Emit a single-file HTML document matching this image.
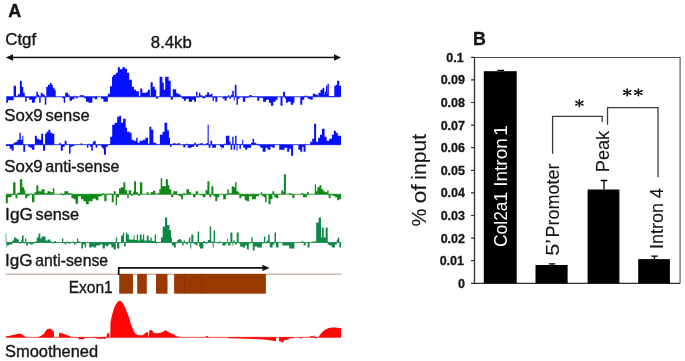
<!DOCTYPE html>
<html><head><meta charset="utf-8"><style>
html,body{margin:0;padding:0;background:#fff;}
body{width:685px;height:361px;overflow:hidden;}
svg{display:block;filter:blur(0.3px);}
</style></head><body>
<svg width="685" height="361" viewBox="0 0 685 361">
<rect width="685" height="361" fill="#fff"/>
<g font-family="&quot;Liberation Sans&quot;, sans-serif" fill="#151515" stroke="#151515" stroke-width="0.35">
<text transform="translate(8.25 16.80) scale(1.0020 1)" font-size="18" font-weight="bold">A</text>
<text transform="translate(5.24 44.60) scale(1.0541 1)" font-size="16">Ctgf</text>
<text transform="translate(150.87 47.70) scale(1.0457 1)" font-size="16">8.4kb</text>
<text transform="translate(4.34 120.90) scale(1.0519 1)" font-size="16">Sox9</text>
<text transform="translate(45.59 120.90) scale(1.0316 1)" font-size="16">sense</text>
<text transform="translate(4.34 171.90) scale(1.0519 1)" font-size="16">Sox9</text>
<text transform="translate(45.37 171.90) scale(1.0044 1)" font-size="16">anti-sense</text>
<text transform="translate(5.10 220.20) scale(1.0814 1)" font-size="16">IgG</text>
<text transform="translate(35.55 220.20) scale(1.0207 1)" font-size="16">sense</text>
<text transform="translate(5.12 266.20) scale(1.0685 1)" font-size="16">IgG</text>
<text transform="translate(35.33 266.20) scale(0.9858 1)" font-size="16">anti-sense</text>
<text transform="translate(68.73 292.50) scale(0.9706 1)" font-size="16">Exon1</text>
<text transform="translate(5.05 356.90) scale(1.0261 1)" font-size="16">Smoothened</text>
</g>
<g fill="#111" stroke="none">
<rect x="11" y="56.7" width="324" height="1.5"/>
<path d="M5.8 57.45L13 54.2L13 60.7Z"/>
<path d="M341.2 57.45L334 54.2L334 60.7Z"/>
</g>
<path fill="#0610fa" d="M6.3 96.8H8V102.8H6.3ZM8 96.8H13.6V100.3H8ZM13.6 96.8H16V85.8H13.6ZM16 96.8H17.9V95.8H16ZM17.9 96.8H19.9V94.3H17.9ZM19.9 96.8H21.8V80.8H19.9ZM21.8 96.8H23.3V86.8H21.8ZM23.3 96.8H24.7V92.8H23.3ZM24.7 96.8H25.2V95.8H24.7ZM25.2 96.8H26.6V101.8H25.2ZM26.6 96.8H29.1V97.8H26.6ZM29.1 96.8H32V99.8H29.1ZM32 96.8H34.9V102.8H32ZM34.9 96.8H36.3V98.8H34.9ZM36.3 96.8H37.8V91.8H36.3ZM37.8 96.8H39.2V94.8H37.8ZM39.2 96.8H40.7V102.8H39.2ZM40.7 96.8H42.2V92.8H40.7ZM42.2 96.8H43.6V93.8H42.2ZM43.6 96.8H44.8V94.8H43.6ZM44.8 96.8H46.3V104.8H44.8ZM46.3 96.8H48V86.8H46.3ZM48 96.8H49.9V84.8H48ZM49.9 96.8H51.4V82.8H49.9ZM51.4 96.8H52.8V84.8H51.4ZM52.8 96.8H54.3V87.8H52.8ZM54.3 96.8H55.7V89.8H54.3ZM62.3 96.8H63.7V98.3H62.3ZM63.7 96.8H65.2V102.8H63.7ZM65.2 96.8H68.1V92.8H65.2ZM68.1 96.8H69.5V94.8H68.1ZM69.5 96.8H72V100.8H69.5ZM72 96.8H74.4V99.3H72ZM74.4 96.8H75.8V95.8H74.4ZM75.8 96.8H77.8V98.3H75.8ZM79.7 96.8H84.1V95.3H79.7ZM84.1 96.8H86V98.3H84.1ZM86 96.8H88.4V101.8H86ZM88.4 96.8H92.3V102.8H88.4ZM92.3 96.8H94.7V97.8H92.3ZM94.7 96.8H97.2V99.3H94.7ZM101 96.8H103.4V98.8H101ZM103.4 96.8H107.8V101.8H103.4ZM107.8 96.8H110V93.8H107.8ZM110 96.8H112V86.3H110ZM112 96.8H113.2V76.8H112ZM113.2 96.8H115.9V74.8H113.2ZM115.9 96.8H117.8V72.8H115.9ZM117.8 96.8H119.8V67.3H117.8ZM119.8 96.8H122.4V69.2H119.8ZM122.4 96.8H125.1V67.3H122.4ZM125.1 96.8H127V68.8H125.1ZM127 96.8H129.2V72.8H127ZM129.2 96.8H131.9V79.8H129.2ZM131.9 96.8H134V86.8H131.9ZM134 96.8H136V89.8H134ZM136 96.8H138.9V91.3H136ZM138.9 96.8H140.2V96.3H138.9ZM140.2 96.8H142.3V88.5H140.2ZM142.3 96.8H146.5V92.8H142.3ZM146.5 96.8H147.9V91.8H146.5ZM147.9 96.8H149.9V89.8H147.9ZM149.9 96.8H150.6V96.3H149.9ZM150.6 96.8H152.7V82.3H150.6ZM152.7 96.8H154.8V86.8H152.7ZM154.8 96.8H156.2V89.8H154.8ZM156.2 96.8H158.2V98.8H156.2ZM159.6 96.8H162.4V76.8H159.6ZM162.4 96.8H163.8V82.8H162.4ZM163.8 96.8H165.2V89.8H163.8ZM165.2 96.8H168.6V76.8H165.2ZM168.6 96.8H170.7V80.8H168.6ZM170.7 96.8H172.8V99.8H170.7ZM172.8 96.8H176.2V89.2H172.8ZM176.2 96.8H178.3V93.3H176.2ZM178.3 96.8H180.4V94.3H178.3ZM180.4 96.8H181.9V95.8H180.4ZM181.9 96.8H183.9V98.8H181.9ZM183.9 96.8H185.8V100.8H183.9ZM185.8 96.8H188.7V98.8H185.8ZM188.7 96.8H192.1V101.8H188.7ZM192.1 96.8H194.1V99.8H192.1ZM194.1 96.8H196V101.8H194.1ZM196 96.8H197.4V91.8H196ZM197.4 96.8H198.9V97.8H197.4ZM198.9 96.8H200.3V92.8H198.9ZM200.3 96.8H202.3V95.3H200.3ZM202.3 96.8H205.2V98.3H202.3ZM205.2 96.8H207.1V94.8H205.2ZM207.1 96.8H209.1V92.3H207.1ZM209.1 96.8H211V94.8H209.1ZM211 96.8H212.5V93.8H211ZM212.5 96.8H213.9V100.8H212.5ZM213.9 96.8H215.4V97.8H213.9ZM215.4 96.8H217.3V101.8H215.4ZM222.6 96.8H224.6V98.8H222.6ZM224.6 96.8H226.5V100.8H224.6ZM226.5 96.8H228V97.8H226.5ZM228 96.8H229.4V95.3H228ZM229.4 96.8H230.9V98.8H229.4ZM230.9 96.8H232.3V94.8H230.9ZM232.3 96.8H233.8V90.8H232.3ZM233.8 96.8H234.7V100.8H233.8ZM234.8 96.8H236.5V84.8H234.8ZM236.5 96.8H237.9V104.8H236.5ZM237.9 96.8H239.4V98.8H237.9ZM239.4 96.8H242.8V97.3H239.4ZM242.8 96.8H245.2V101.8H242.8ZM245.2 96.8H249V97.8H245.2ZM249 96.8H252V95.3H249ZM252 96.8H257.3V96.3H252ZM257.3 96.8H259.2V100.8H257.3ZM259.2 96.8H263.1V97.8H259.2ZM263.1 96.8H266V101.8H263.1ZM266 96.8H268.9V99.8H266ZM268.9 96.8H270.9V102.8H268.9ZM270.9 96.8H273.3V105.8H270.9ZM273.3 96.8H275.7V101.8H273.3ZM275.7 96.8H277.6V99.8H275.7ZM280.5 96.8H282.5V105.8H280.5ZM283 96.8H284.9V91.8H283ZM284.9 96.8H285.9V98.8H284.9ZM285.9 96.8H287.8V102.8H285.9ZM287.8 96.8H290.7V101.8H287.8ZM290.7 96.8H293.1V104.8H290.7ZM293.1 96.8H294.4V102.8H293.1ZM300.3 96.8H302.3V104.8H300.3ZM302.3 96.8H304.3V99.8H302.3ZM304.3 96.8H307.6V95.8H304.3ZM307.6 96.8H310.2V98.8H307.6ZM310.2 96.8H312.8V99.8H310.2ZM312.8 96.8H315.4V93.8H312.8ZM315.4 96.8H318V94.8H315.4ZM318.4 96.8H320.5V92.8H318.4ZM320.5 96.8H322.5V89.8H320.5ZM322.5 96.8H324.3V87.8H322.5ZM324.3 96.8H324.8V94.8H324.3ZM324.8 96.8H326V91.8H324.8ZM326 96.8H327.2V85.8H326ZM327.2 96.8H327.5V93.8H327.2ZM327.5 96.8H328.8V83.8H327.5ZM328.8 96.8H334.3V96H328.8ZM334.3 96.8H335.7V85.8H334.3ZM335.7 96.8H337.1V84.8H335.7ZM337.1 96.8H339.2V80.8H337.1ZM339.2 96.8H341V85.8H339.2Z"/>
<rect x="6" y="96.4" width="335" height="0.8" fill="#0610fa"/>
<path fill="#0610fa" d="M5.8 144.7H9.7V145.9H5.8ZM9.7 144.7H11.6V148.7H9.7ZM11.6 144.7H13.6V150.7H11.6ZM13.6 144.7H15.5V142.7H13.6ZM15.5 144.7H17.4V141.7H15.5ZM17.4 144.7H19.4V139.7H17.4ZM19.4 144.7H20.8V132.7H19.4ZM20.8 144.7H22.3V139.7H20.8ZM22.3 144.7H23.3V135.7H22.3ZM23.3 144.7H25.2V151.7H23.3ZM28.1 144.7H30V146.7H28.1ZM30 144.7H32V147.7H30ZM32 144.7H34.4V149.7H32ZM34.9 144.7H36.8V135.7H34.9ZM36.8 144.7H38.8V138.7H36.8ZM38.8 144.7H41.2V139.7H38.8ZM41.2 144.7H43.1V133.7H41.2ZM43.1 144.7H45.1V150.7H43.1ZM45.1 144.7H46.5V133.7H45.1ZM46.5 144.7H48.4V131.7H46.5ZM48.4 144.7H50.4V129.7H48.4ZM50.4 144.7H52.3V132.7H50.4ZM52.3 144.7H54.3V133.7H52.3ZM59.4 144.7H60.8V142.7H59.4ZM60.8 144.7H62.8V150.7H60.8ZM62.8 144.7H64.7V146.7H62.8ZM64.7 144.7H66.6V140.7H64.7ZM69 144.7H70.5V153.7H69ZM70.5 144.7H72V146.7H70.5ZM72 144.7H74.4V146.2H72ZM80.7 144.7H82.1V143.2H80.7ZM87 144.7H88.4V147.7H87ZM88.4 144.7H89.9V143.7H88.4ZM89.9 144.7H91.3V146.7H89.9ZM91.3 144.7H92.8V150.7H91.3ZM92.8 144.7H94.2V141.7H92.8ZM94.2 144.7H95.7V140.7H94.2ZM95.7 144.7H97.2V147.7H95.7ZM97.2 144.7H101V145.2H97.2ZM101 144.7H102.5V146.7H101ZM102.5 144.7H103.9V148.7H102.5ZM103.9 144.7H105.9V154.7H103.9ZM105.9 144.7H107.8V146.7H105.9ZM107.8 144.7H110.2V144.2H107.8ZM110.2 144.7H112.2V136.7H110.2ZM112.2 144.7H114.6V124.7H112.2ZM114.6 144.7H117.2V122.7H114.6ZM117.2 144.7H119.2V116.7H117.2ZM119.2 144.7H121.1V115.7H119.2ZM121.1 144.7H123.1V122.7H121.1ZM123.1 144.7H125.7V118.7H123.1ZM125.7 144.7H127V127.7H125.7ZM127 144.7H129.7V131.7H127ZM129.7 144.7H131.6V132.7H129.7ZM131.6 144.7H133.6V139.7H131.6ZM133.6 144.7H136.2V140.7H133.6ZM136.2 144.7H137.6V137.7H136.2ZM137.6 144.7H139.5V142.7H137.6ZM139.5 144.7H142.8V140.7H139.5ZM142.8 144.7H145.4V139.7H142.8ZM145.4 144.7H148.1V137.7H145.4ZM148.1 144.7H149.4V143.7H148.1ZM149.4 144.7H151.4V126.7H149.4ZM151.4 144.7H153.3V129.7H151.4ZM153.3 144.7H156V142.7H153.3ZM156 144.7H157.9V143.7H156ZM159.9 144.7H162.5V134.7H159.9ZM162.5 144.7H164.5V131.7H162.5ZM164.5 144.7H167.2V122.7H164.5ZM167.2 144.7H168.9V130.3H167.2ZM168.9 144.7H170V137.7H168.9ZM170 144.7H171.6V146.7H170ZM171.6 144.7H173.3V143.7H171.6ZM173.3 144.7H175.5V143.2H173.3ZM175.5 144.7H177.7V143.7H175.5ZM177.7 144.7H180V143.2H177.7ZM183.3 144.7H185.5V147.2H183.3ZM185.5 144.7H187.7V143.7H185.5ZM187.7 144.7H191.6V147.7H187.7ZM191.6 144.7H194.3V146.7H191.6ZM194.3 144.7H196V142.7H194.3ZM196 144.7H198.2V146.7H196ZM198.2 144.7H200.4V143.7H198.2ZM200.4 144.7H203.2V143.2H200.4ZM203.2 144.7H206V145.2H203.2ZM206 144.7H207.6V143.2H206ZM207.6 144.7H208.7V124.7H207.6ZM208.7 144.7H210.4V147.7H208.7ZM210.4 144.7H212.1V140.7H210.4ZM212.1 144.7H215.9V147.7H212.1ZM219.8 144.7H221.5V146.7H219.8ZM221.5 144.7H222V149.7H221.5ZM222 144.7H224V147.7H222ZM224 144.7H225.9V143.7H224ZM225.9 144.7H229.3V135.7H225.9ZM229.3 144.7H230.7V141.7H229.3ZM230.7 144.7H232.2V149.7H230.7ZM232.2 144.7H233.6V136.7H232.2ZM233.6 144.7H235.1V149.7H233.6ZM235.1 144.7H236.5V135.7H235.1ZM236.5 144.7H237.5V150.7H236.5ZM237.5 144.7H239.4V144.2H237.5ZM239.4 144.7H240.9V148.7H239.4ZM240.9 144.7H242.3V143.7H240.9ZM242.3 144.7H243.3V139.7H242.3ZM243.3 144.7H245.3V147.7H243.3ZM245.3 144.7H247.2V149.7H245.3ZM247.2 144.7H251.1V147.7H247.2ZM251.1 144.7H252.5V142.7H251.1ZM252.5 144.7H254V138.7H252.5ZM254 144.7H255.9V142.7H254ZM255.9 144.7H258.3V143.7H255.9ZM258.3 144.7H260.3V145.7H258.3ZM260.3 144.7H262.7V147.7H260.3ZM262.7 144.7H265.6V151.7H262.7ZM265.6 144.7H267.5V147.7H265.6ZM267.5 144.7H270.4V149.7H267.5ZM270.4 144.7H272.4V146.7H270.4ZM272.4 144.7H274.8V147.7H272.4ZM279.2 144.7H284.6V149.7H279.2ZM284.6 144.7H287.2V147.7H284.6ZM287.2 144.7H289.2V151.7H287.2ZM289.2 144.7H291.1V148.7H289.2ZM291.1 144.7H293.1V155.7H291.1ZM298.4 144.7H300.3V149.7H298.4ZM300.3 144.7H302.3V151.7H300.3ZM302.3 144.7H303.6V146.7H302.3ZM303.6 144.7H305.6V151.7H303.6ZM310.2 144.7H312.2V141.7H310.2ZM312.2 144.7H314.1V138.7H312.2ZM314.1 144.7H316.1V123.7H314.1ZM316.1 144.7H318.1V141.7H316.1ZM318.1 144.7H320V137.7H318.1ZM320 144.7H322V134.7H320ZM322 144.7H324.6V128.7H322ZM324.6 144.7H326.6V136.7H324.6ZM326.6 144.7H329.2V140.7H326.6ZM329.2 144.7H331.9V138.7H329.2ZM331.9 144.7H333.8V134.7H331.9ZM333.8 144.7H335.8V130.7H333.8ZM335.8 144.7H337.8V132.7H335.8ZM337.8 144.7H341V135.7H337.8Z"/>
<rect x="6" y="144.3" width="335" height="0.8" fill="#0610fa"/>
<path fill="#0e8816" d="M5.8 194.2H7.8V203.2H5.8ZM7.8 194.2H11.6V197.2H7.8ZM11.6 194.2H13.1V195.2H11.6ZM13.1 194.2H15.5V182.2H13.1ZM15.5 194.2H17.4V198.2H15.5ZM17.4 194.2H19.9V192.7H17.4ZM19.9 194.2H22.3V179.2H19.9ZM22.3 194.2H24.2V187.2H22.3ZM24.2 194.2H25.2V190.2H24.2ZM25.2 194.2H27.1V198.2H25.2ZM27.1 194.2H29.1V196.2H27.1ZM29.1 194.2H32V193.7H29.1ZM32 194.2H34.4V202.2H32ZM34.4 194.2H36.3V192.2H34.4ZM36.3 194.2H38.3V185.2H36.3ZM38.3 194.2H41.7V191.2H38.3ZM41.7 194.2H44.6V189.2H41.7ZM44.6 194.2H47.5V193.2H44.6ZM47.5 194.2H50.4V191.2H47.5ZM50.4 194.2H52.8V192.2H50.4ZM52.8 194.2H54.3V188.2H52.8ZM60.4 194.2H62.4V193.2H60.4ZM62.4 194.2H64.4V195.2H62.4ZM64.4 194.2H68.3V191.2H64.4ZM68.3 194.2H71.4V193.2H68.3ZM71.4 194.2H73.7V198.2H71.4ZM73.7 194.2H75.5V199.2H73.7ZM75.5 194.2H78.1V203.7H75.5ZM78.1 194.2H81V196.2H78.1ZM81 194.2H83.4V199.2H81ZM83.4 194.2H85.9V201.2H83.4ZM85.9 194.2H88.8V204.2H85.9ZM88.8 194.2H92.6V201.2H88.8ZM92.6 194.2H96V198.7H92.6ZM96 194.2H98.4V200.2H96ZM98.4 194.2H102.3V196.2H98.4ZM102.3 194.2H104.3V193.2H102.3ZM104.3 194.2H106.5V201.2H104.3ZM106.5 194.2H111.8V193.7H106.5ZM111.8 194.2H113.7V202.2H111.8ZM113.7 194.2H115.7V191.2H113.7ZM115.7 194.2H117.1V205.2H115.7ZM117.1 194.2H119.1V197.2H117.1ZM119.1 194.2H121V188.2H119.1ZM121 194.2H123.4V187.2H121ZM123.4 194.2H125.3V182.2H123.4ZM125.3 194.2H127.3V190.2H125.3ZM127.3 194.2H128.7V198.2H127.3ZM128.7 194.2H131.2V190.2H128.7ZM131.2 194.2H133.1V195.7H131.2ZM133.1 194.2H134.1V192.2H133.1ZM134.1 194.2H136V181.2H134.1ZM136 194.2H138V192.2H136ZM138 194.2H139.9V195.7H138ZM139.9 194.2H142.3V182.2H139.9ZM146.7 194.2H148.6V192.2H146.7ZM150.5 194.2H153V192.2H150.5ZM153 194.2H155.4V190.7H153ZM157.3 194.2H159.3V193.2H157.3ZM159.3 194.2H160.7V189.2H159.3ZM160.7 194.2H162.2V178.2H160.7ZM162.2 194.2H165.8V186.2H162.2ZM165.8 194.2H167.9V179.2H165.8ZM167.9 194.2H169.4V185.2H167.9ZM169.4 194.2H171.3V189.2H169.4ZM171.3 194.2H173.3V197.2H171.3ZM173.3 194.2H177.2V191.2H173.3ZM177.2 194.2H179.2V195.2H177.2ZM179.2 194.2H181.2V196.2H179.2ZM181.2 194.2H183.1V199.2H181.2ZM183.1 194.2H185.1V193.2H183.1ZM185.1 194.2H186.4V195.2H185.1ZM186.4 194.2H189.1V189.2H186.4ZM189.1 194.2H191.1V192.2H189.1ZM193 194.2H195.6V197.2H193ZM195.6 194.2H198.2V191.2H195.6ZM200.2 194.2H202.8V195.2H200.2ZM202.8 194.2H205.5V197.2H202.8ZM205.5 194.2H207.4V190.2H205.5ZM207.4 194.2H209.4V181.2H207.4ZM209.4 194.2H211.4V197.2H209.4ZM211.4 194.2H213.4V186.2H211.4ZM213.4 194.2H215.3V196.2H213.4ZM215.3 194.2H217.3V201.2H215.3ZM217.3 194.2H219.3V197.2H217.3ZM223.2 194.2H225.9V199.2H223.2ZM225.9 194.2H227.3V195.2H225.9ZM227.3 194.2H228.8V189.2H227.3ZM228.8 194.2H231.7V193.2H228.8ZM231.7 194.2H233.6V186.2H231.7ZM233.6 194.2H235.1V187.2H233.6ZM235.1 194.2H236.5V182.2H235.1ZM236.5 194.2H238V191.2H236.5ZM238 194.2H239.4V192.2H238ZM239.4 194.2H241.4V198.2H239.4ZM241.4 194.2H244.8V196.2H241.4ZM244.8 194.2H246.7V200.2H244.8ZM246.7 194.2H249.1V201.2H246.7ZM249.1 194.2H252V196.2H249.1ZM252 194.2H255.9V199.2H252ZM255.9 194.2H258.8V196.2H255.9ZM260.8 194.2H262.2V192.2H260.8ZM262.2 194.2H263.7V196.2H262.2ZM263.7 194.2H265.1V197.2H263.7ZM265.1 194.2H266.6V202.2H265.1ZM268.5 194.2H270.5V204.2H268.5ZM270.5 194.2H272.4V199.2H270.5ZM272.4 194.2H274.3V191.2H272.4ZM274.3 194.2H276.3V197.2H274.3ZM276.3 194.2H278.2V198.2H276.3ZM281.3 194.2H283.2V190.2H281.3ZM283.2 194.2H283.9V192.2H283.2ZM283.9 194.2H285.9V174.2H283.9ZM288.5 194.2H291.1V193.2H288.5ZM291.1 194.2H292.4V195.2H291.1ZM292.4 194.2H294.4V198.2H292.4ZM301 194.2H303V193.2H301ZM303 194.2H306.9V197.2H303ZM306.9 194.2H308.9V192.2H306.9ZM314.8 194.2H316.1V184.2H314.8ZM316.1 194.2H317.4V191.2H316.1ZM317.4 194.2H319.4V187.2H317.4ZM319.4 194.2H321.4V185.2H319.4ZM321.4 194.2H323.3V189.2H321.4ZM323.3 194.2H325.3V191.2H323.3ZM325.3 194.2H327.3V192.2H325.3ZM327.3 194.2H328.6V190.2H327.3ZM328.6 194.2H330.6V198.2H328.6ZM330.6 194.2H333.2V195.2H330.6ZM333.2 194.2H335.1V196.2H333.2ZM335.1 194.2H337.1V197.2H335.1ZM337.1 194.2H339.1V200.2H337.1ZM339.1 194.2H341V199.2H339.1Z"/>
<rect x="6" y="193.8" width="335" height="0.8" fill="#0e8816"/>
<path fill="#0e8845" d="M5.7 242.6H6.4V233.6H5.7ZM6.4 242.6H7V247.6H6.4ZM7 242.6H8.8V245.6H7ZM8.8 242.6H12.3V244.6H8.8ZM12.3 242.6H14V240.6H12.3ZM14 242.6H15.8V237.6H14ZM15.8 242.6H17.5V238.6H15.8ZM17.5 242.6H18.8V239.6H17.5ZM18.8 242.6H21V243.6H18.8ZM21 242.6H21.9V240.6H21ZM21.9 242.6H23.6V235.6H21.9ZM23.6 242.6H25V243.6H23.6ZM25 242.6H26.3V238.6H25ZM26.3 242.6H28V245.6H26.3ZM28 242.6H30.2V243.6H28ZM30.2 242.6H32.8V244.6H30.2ZM32.8 242.6H35V243.6H32.8ZM35 242.6H36.8V241.6H35ZM36.8 242.6H38.5V237.6H36.8ZM38.5 242.6H40.3V233.6H38.5ZM40.3 242.6H41.6V238.6H40.3ZM41.6 242.6H45.5V236.6H41.6ZM45.5 242.6H47.7V240.6H45.5ZM47.7 242.6H50.4V239.6H47.7ZM50.4 242.6H52.5V241.6H50.4ZM52.5 242.6H54.3V243.6H52.5ZM54.3 242.6H56V241.1H54.3ZM62 242.6H63.3V238.6H62ZM63.3 242.6H65.1V243.6H63.3ZM65.1 242.6H66.4V244.6H65.1ZM66.4 242.6H68.1V241.6H66.4ZM68.1 242.6H70.8V243.6H68.1ZM70.8 242.6H72.5V242.1H70.8ZM72.5 242.6H74V241.6H72.5ZM74 242.6H75.6V244.6H74ZM75.6 242.6H76.9V243.6H75.6ZM76.9 242.6H78.2V238.6H76.9ZM78.2 242.6H80.4V241.6H78.2ZM81.3 242.6H83V248.6H81.3ZM83 242.6H84.8V244.6H83ZM84.8 242.6H86.1V247.6H84.8ZM86.1 242.6H89.2V243.1H86.1ZM89.2 242.6H91.8V247.6H89.2ZM91.8 242.6H93.5V246.6H91.8ZM93.5 242.6H96.2V247.6H93.5ZM96.2 242.6H100V245.6H96.2ZM100 242.6H102.6V244.6H100ZM102.6 242.6H104.8V248.6H102.6ZM104.8 242.6H106.6V245.6H104.8ZM106.6 242.6H108.3V246.6H106.6ZM108.3 242.6H111.4V244.6H108.3ZM111.4 242.6H113.6V247.6H111.4ZM113.6 242.6H115.8V249.6H113.6ZM115.8 242.6H117.1V237.6H115.8ZM117.1 242.6H119.3V248.6H117.1ZM119.3 242.6H121V242.1H119.3ZM121 242.6H122.8V235.6H121ZM122.8 242.6H124.1V232.6H122.8ZM124.1 242.6H125.8V246.6H124.1ZM125.8 242.6H127.1V232.6H125.8ZM127.1 242.6H128.9V234.6H127.1ZM128.9 242.6H133.7V239.6H128.9ZM133.7 242.6H134.6V235.6H133.7ZM134.6 242.6H136.8V240.1H134.6ZM136.8 242.6H138.1V234.6H136.8ZM138.1 242.6H139.8V240.6H138.1ZM139.8 242.6H141.6V234.6H139.8ZM141.6 242.6H142.9V239.6H141.6ZM142.9 242.6H144.2V234.6H142.9ZM144.2 242.6H146.8V240.6H144.2ZM146.8 242.6H148.6V235.6H146.8ZM148.6 242.6H150.4V240.6H148.6ZM150.4 242.6H151.7V237.6H150.4ZM151.7 242.6H154.7V241.1H151.7ZM154.7 242.6H156V234.6H154.7ZM156 242.6H156.6V244.1H156ZM156.6 242.6H161V242.1H156.6ZM161 242.6H162.7V237.6H161ZM162.7 242.6H165V226.6H162.7ZM165 242.6H167.2V217.6H165ZM167.2 242.6H169.4V224.9H167.2ZM169.4 242.6H171V229.9H169.4ZM171 242.6H171.9V237.6H171ZM171.9 242.6H173.9V245.6H171.9ZM173.9 242.6H175.8V247.6H173.9ZM175.8 242.6H177.3V243.6H175.8ZM177.3 242.6H178.7V240.1H177.3ZM178.7 242.6H180.7V239.1H178.7ZM180.7 242.6H182.1V240.6H180.7ZM182.1 242.6H183.6V245.6H182.1ZM183.6 242.6H185V240.6H183.6ZM185 242.6H186.5V243.6H185ZM186.5 242.6H187.9V244.6H186.5ZM187.9 242.6H188.9V241.6H187.9ZM188.9 242.6H190.3V237.6H188.9ZM190.3 242.6H191.3V248.6H190.3ZM191.3 242.6H193.3V234.6H191.3ZM193.3 242.6H194.7V243.6H193.3ZM194.7 242.6H196.2V244.6H194.7ZM196.2 242.6H197.6V245.6H196.2ZM197.6 242.6H199.1V231.6H197.6ZM199.1 242.6H200V246.6H199.1ZM200 242.6H203.4V248.6H200ZM203.4 242.6H204.9V241.1H203.4ZM204.9 242.6H207.8V243.6H204.9ZM207.8 242.6H209.7V240.1H207.8ZM209.7 242.6H211.2V226.6H209.7ZM211.2 242.6H212.6V241.6H211.2ZM212.6 242.6H213.6V247.6H212.6ZM213.6 242.6H215.1V230.6H213.6ZM215.1 242.6H217.5V243.1H215.1ZM217.5 242.6H218.9V243.6H217.5ZM218.9 242.6H220.9V241.6H218.9ZM222.3 242.6H225.7V245.6H222.3ZM225.7 242.6H227.2V243.6H225.7ZM227.2 242.6H228.1V238.6H227.2ZM228.1 242.6H230.4V245.6H228.1ZM230.4 242.6H232.4V232.6H230.4ZM232.4 242.6H233.3V245.6H232.4ZM233.3 242.6H234.8V240.6H233.3ZM234.8 242.6H236.7V244.6H234.8ZM236.7 242.6H238.7V232.6H236.7ZM238.7 242.6H240.1V243.6H238.7ZM240.1 242.6H242.5V246.6H240.1ZM242.5 242.6H245V247.6H242.5ZM245 242.6H246.9V245.6H245ZM246.9 242.6H248.8V249.6H246.9ZM248.8 242.6H251.3V243.6H248.8ZM251.3 242.6H252.7V237.6H251.3ZM252.7 242.6H254.6V250.6H252.7ZM254.6 242.6H257.1V246.6H254.6ZM257.1 242.6H261.9V247.6H257.1ZM261.9 242.6H263.9V243.6H261.9ZM263.9 242.6H265.3V236.6H263.9ZM265.3 242.6H266.8V243.6H265.3ZM266.8 242.6H268.2V240.6H266.8ZM268.2 242.6H269.7V234.6H268.2ZM269.7 242.6H272.6V247.6H269.7ZM272.6 242.6H274.5V244.6H272.6ZM274.5 242.6H276V232.6H274.5ZM276 242.6H278.4V247.6H276ZM282.3 242.6H289.2V245.6H282.3ZM289.2 242.6H294.4V248.6H289.2ZM301 242.6H303.6V241.6H301ZM303.6 242.6H305.6V245.6H303.6ZM307.6 242.6H309.5V247.6H307.6ZM312.5 242.6H316.2V241.6H312.5ZM316.2 242.6H318.7V222.6H316.2ZM318.7 242.6H321V217.6H318.7ZM321 242.6H321.8V237.6H321ZM321.8 242.6H323.7V227.6H321.8ZM323.7 242.6H325.6V237.6H323.7ZM325.6 242.6H327.7V227.6H325.6ZM327.7 242.6H329.3V244.6H327.7ZM329.3 242.6H331.8V245.6H329.3ZM331.8 242.6H334.9V247.6H331.8ZM334.9 242.6H336.8V244.6H334.9ZM336.8 242.6H338V239.6H336.8ZM338 242.6H339.3V237.6H338ZM339.3 242.6H341V247.6H339.3Z"/>
<rect x="6" y="242.2" width="335" height="0.8" fill="#0e8845"/>
<rect x="5.7" y="273.6" width="335.7" height="1.1" fill="#bca096"/>
<g fill="#993a02">
<rect x="119.2" y="274" width="13.8" height="19.7"/>
<rect x="137.2" y="274" width="9.6" height="19.7"/>
<rect x="156" y="274" width="11.5" height="19.7"/>
<rect x="174.1" y="274" width="91.8" height="19.7"/>
<rect x="184.2" y="274" width="0.8" height="19.7" fill="#873200"/>
<rect x="201.4" y="274" width="0.8" height="19.7" fill="#873200"/>
</g>
<path d="M118.7 275V267.9H264" fill="none" stroke="#111" stroke-width="1.7"/>
<path d="M269.6 267.9L262.4 264.8L262.4 271Z" fill="#111"/>
<path fill="#fe0606" d="M6 337.3L6 336.3L10 335.8L14 334.8L18 333.8L21 333.8L24 335.8L26 337.3L38 337.3L41 335.8L44 333.8L46 330.3L48 328.8L51 328.8L52 330.3L53.9 331.3L54 337.3L59 337.3L59.1 332.8L62 333.3L66 334.8L70 336.3L72 337.3L78 337.8L79 339.3L84 339.3L85 337.8L93 337.8L96 338.3L98 338.8L106 338.8L106.5 336.3L107.3 333.3L109.3 333.3L109.5 337.3L110.3 337.3L110.5 322.3L112 315.3L114 308.3L116 304.3L118 301.3L120.5 300.8L123 303.3L125 307.3L127 312.3L129 317.3L131 324.3L133 329.3L135 333.3L137 334.8L140 335.3L142.8 335.3L144 334.3L146.5 332.3L148.2 332.3L148.4 337.3L148.9 337.3L149.2 330.3L152 330.3L154 333.3L158 333.3L162 332.3L165.5 330.3L169 332.3L172 333.8L174 334.3L176 336.3L180 336.8L181 337.3L205 337.3L207 335.8L209 337.3L228 337.3L228.5 338.3L247 338.8L261 339.3L270 340.3L276 341.3L276.1 337.3L279 337.3L279.1 341.3L282 341.8L283 343.3L284 340.3L289 339.3L290 338.3L293.6 338.3L294 337.3L299.5 337.3L299.6 338.3L302.4 338.3L302.5 337.3L309.7 337.3L310 336.3L314 336.3L314.5 334.8L315.5 339.3L316.2 338.3L318.4 337.3L320 334.8L323 331.3L326 329.3L329 328.1L332 327.5L336 327.5L339 327.9L341 328.3L341 337.3Z"/>
<rect x="6" y="336.9" width="335" height="0.7" fill="#fe0606"/>
<g font-family="&quot;Liberation Sans&quot;, sans-serif" fill="#151515" stroke="#151515" stroke-width="0.3">
<text transform="translate(472.90 44.80) scale(0.9929 1)" font-size="18" font-weight="bold">B</text>
</g>
<path d="M474.5 57.5H680.1V283.3" fill="none" stroke="#505050" stroke-width="1.1"/>
<path d="M474.5 57.5V283.3H680.1" fill="none" stroke="#303030" stroke-width="1.3"/>
<g font-family="&quot;Liberation Sans&quot;, sans-serif" font-size="12.5" font-weight="bold" fill="#151515" stroke="#151515" stroke-width="0.3" text-anchor="end">
<text x="465" y="287.8">0</text>
<text x="464" y="265.1">0.01</text>
<text x="465" y="242.6">0.02</text>
<text x="465" y="219.9">0.03</text>
<text x="465" y="197.3">0.04</text>
<text x="465" y="174.8">0.05</text>
<text x="465" y="152.2">0.06</text>
<text x="465" y="129.5">0.07</text>
<text x="465" y="107">0.08</text>
<text x="465" y="84.4">0.09</text>
<text x="463.6" y="61.8">0.1</text>
</g>
<path d="M471 283.3H474.5M471 260.7H474.5M471 238.1H474.5M471 215.5H474.5M471 192.9H474.5M471 170.3H474.5M471 147.7H474.5M471 125.1H474.5M471 102.5H474.5M471 79.9H474.5M471 57.3H474.5" stroke="#333" stroke-width="1.2"/>
<rect x="483.8" y="71.2" width="32.9" height="212.1" fill="#000"/>
<path d="M500.8 71.2V70.4M497.4 70.4H504.1" stroke="#000" stroke-width="1.3" fill="none"/>
<rect x="535.5" y="265" width="32.1" height="18.3" fill="#000"/>
<path d="M552 265V263.9M548.8 263.9H555.3" stroke="#000" stroke-width="1.3" fill="none"/>
<rect x="587.6" y="189.5" width="31.8" height="93.8" fill="#000"/>
<path d="M604 189.5V180.5M600.7 180.5H607.3" stroke="#000" stroke-width="1.3" fill="none"/>
<rect x="638.2" y="259.1" width="31.7" height="24.2" fill="#000"/>
<path d="M654.5 259.1V256.2M651.2 256.2H657.8" stroke="#000" stroke-width="1.3" fill="none"/>
<g font-family="&quot;Liberation Sans&quot;, sans-serif">
<text transform="translate(507.10 246.99) rotate(-90) scale(0.9684 1)" font-size="18" fill="#fff" stroke="#fff" stroke-width="0">Col2a1</text>
<text transform="translate(507.10 186.75) rotate(-90) scale(1.0556 1)" font-size="18" fill="#fff" stroke="#fff" stroke-width="0">Intron</text>
<text transform="translate(507.10 136.02) rotate(-90) scale(1.1081 1)" font-size="18" fill="#fff" stroke="#fff" stroke-width="0">1</text>
<text transform="translate(559.30 255.76) rotate(-90) scale(1.1994 1)" font-size="18" fill="#151515" stroke="#151515" stroke-width="0.12">5’</text>
<text transform="translate(559.30 237.48) rotate(-90) scale(1.0007 1)" font-size="18" fill="#151515" stroke="#151515" stroke-width="0.12">Promoter</text>
<text transform="translate(609.20 172.19) rotate(-90) scale(1.0082 1)" font-size="18" fill="#151515" stroke="#151515" stroke-width="0.12">Peak</text>
<text transform="translate(662.80 248.95) rotate(-90) scale(0.9957 1)" font-size="18" fill="#151515" stroke="#151515" stroke-width="0.12">Intron 4</text>
<text transform="translate(425.80 226.42) rotate(-90) scale(0.9841 1)" font-size="20.5" fill="#151515" stroke="#151515" stroke-width="0.12">%</text>
<text transform="translate(425.80 203.47) rotate(-90) scale(1.1251 1)" font-size="20.5" fill="#151515" stroke="#151515" stroke-width="0.12">of</text>
<text transform="translate(425.80 179.71) rotate(-90) scale(1.0295 1)" font-size="20.5" fill="#151515" stroke="#151515" stroke-width="0.12">input</text>
</g>
<path d="M552.6 153.8V116.4H602.2V122.2M607.5 124.8V107.7H658V177.3" fill="none" stroke="#3a3a3a" stroke-width="1.3"/>
<g font-family="&quot;Liberation Sans&quot;, sans-serif" fill="#151515">
<path d="M579.40 103.20L579.40 99.61M579.40 103.20L579.40 106.79M579.40 103.20L583.17 101.36M579.40 103.20L583.17 105.04M579.40 103.20L575.63 101.36M579.40 103.20L575.63 105.04" stroke="#151515" stroke-width="1.1" stroke-linecap="round" fill="none"/><circle cx="579.40" cy="100.39" r="0.95" fill="#151515"/><circle cx="579.40" cy="106.01" r="0.95" fill="#151515"/><circle cx="582.35" cy="101.76" r="0.95" fill="#151515"/><circle cx="582.35" cy="104.64" r="0.95" fill="#151515"/><circle cx="576.45" cy="101.76" r="0.95" fill="#151515"/><circle cx="576.45" cy="104.64" r="0.95" fill="#151515"/>
<path d="M627.25 92.45L627.25 88.86M627.25 92.45L627.25 96.04M627.25 92.45L631.02 90.61M627.25 92.45L631.02 94.29M627.25 92.45L623.48 90.61M627.25 92.45L623.48 94.29" stroke="#151515" stroke-width="1.1" stroke-linecap="round" fill="none"/><circle cx="627.25" cy="89.64" r="0.95" fill="#151515"/><circle cx="627.25" cy="95.26" r="0.95" fill="#151515"/><circle cx="630.20" cy="91.01" r="0.95" fill="#151515"/><circle cx="630.20" cy="93.89" r="0.95" fill="#151515"/><circle cx="624.30" cy="91.01" r="0.95" fill="#151515"/><circle cx="624.30" cy="93.89" r="0.95" fill="#151515"/>
<path d="M638.40 92.45L638.40 88.86M638.40 92.45L638.40 96.04M638.40 92.45L642.17 90.61M638.40 92.45L642.17 94.29M638.40 92.45L634.63 90.61M638.40 92.45L634.63 94.29" stroke="#151515" stroke-width="1.1" stroke-linecap="round" fill="none"/><circle cx="638.40" cy="89.64" r="0.95" fill="#151515"/><circle cx="638.40" cy="95.26" r="0.95" fill="#151515"/><circle cx="641.35" cy="91.01" r="0.95" fill="#151515"/><circle cx="641.35" cy="93.89" r="0.95" fill="#151515"/><circle cx="635.45" cy="91.01" r="0.95" fill="#151515"/><circle cx="635.45" cy="93.89" r="0.95" fill="#151515"/>
</g>
</svg>
</body></html>
